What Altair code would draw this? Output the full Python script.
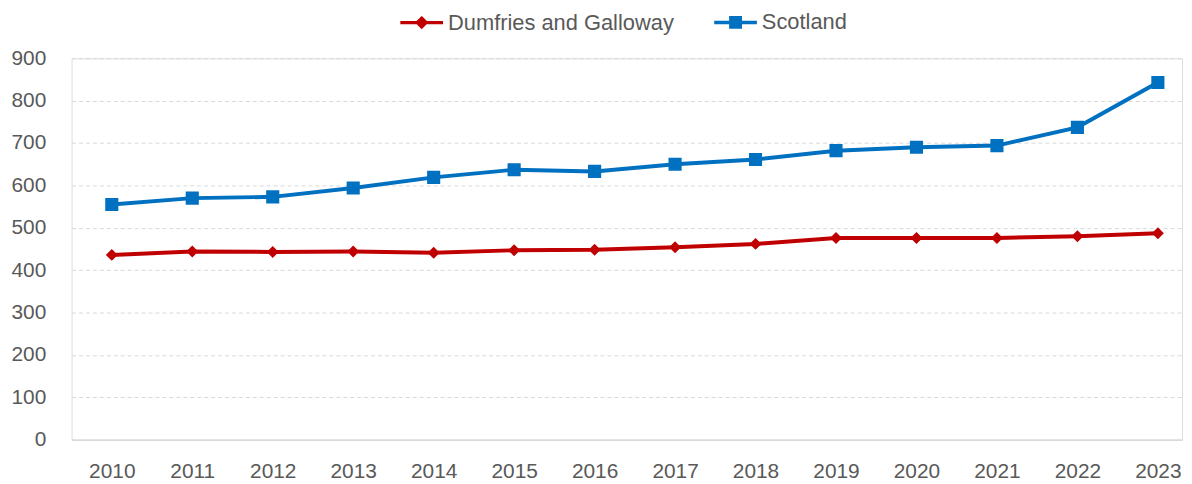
import altair as alt
import pandas as pd

years = list(range(2010, 2024))
dumfries = [436, 444, 443, 444, 441, 447, 448, 454, 462, 476, 476, 476, 480, 487]
scotland = [555, 570, 573, 594, 619, 637, 633, 650, 661, 682, 690, 694, 737, 843]
series_names = ["Dumfries and Galloway", "Scotland"]
colors = ["#C00000", "#0070C0"]
y_ticks = list(range(0, 1000, 100))

df = pd.DataFrame(
    {
        "year": years * 2,
        "value": dumfries + scotland,
        "series": [series_names[0]] * len(years) + [series_names[1]] * len(years),
    }
)

FONT = "Liberation Sans"
LABEL = "#595959"

diamond_path = "M-1,0H1M0,-0.2L0.2,0L0,0.2L-0.2,0Z"
square_path = "M-1,0H1M-0.22,-0.22H0.22V0.22H-0.22Z"

color_scale = alt.Scale(domain=series_names, range=colors)

legend = alt.Legend(
    title=None,
    orient="none",
    direction="horizontal",
    columns=2,
    legendX=329,
    legendY=-60,
    labelFont=FONT,
    labelFontSize=22,
    labelColor=LABEL,
    labelOffset=3,
    labelLimit=400,
    columnPadding=33,
    symbolSize=1849,
    symbolStrokeWidth=3.5,
)

x_enc = alt.X(
    "year:Q",
    scale=alt.Scale(domain=[2009.5, 2023.3], nice=False, zero=False),
    axis=alt.Axis(
        title=None,
        values=years,
        format="d",
        grid=False,
        ticks=False,
        domain=True,
        domainColor="#D9D9D9",
        domainWidth=1.5,
        labelFont=FONT,
        labelFontSize=21,
        labelColor=LABEL,
        labelPadding=21,
    ),
)
y_enc = alt.Y(
    "value:Q",
    scale=alt.Scale(domain=[0, 900], nice=False),
    axis=alt.Axis(
        title=None,
        values=y_ticks,
        grid=True,
        gridColor="#D9D9D9",
        gridDash=[4, 3],
        gridWidth=1,
        ticks=False,
        domain=False,
        labelFont=FONT,
        labelFontSize=21,
        labelColor=LABEL,
        labelPadding=26,
    ),
)

lines = alt.Chart(df).mark_line(strokeWidth=4, interpolate="linear").encode(
    x=x_enc,
    y=y_enc,
    color=alt.Color("series:N", scale=color_scale, legend=legend),
)

points = alt.Chart(df).mark_point(filled=True, opacity=1, size=3600, strokeWidth=0).encode(
    x=x_enc,
    y=y_enc,
    color=alt.Color("series:N", scale=color_scale, legend=legend),
    stroke=alt.Stroke("series:N", scale=color_scale, legend=legend),
    shape=alt.Shape(
        "series:N",
        scale=alt.Scale(domain=series_names, range=[diamond_path, square_path]),
        legend=legend,
    ),
)

chart = (
    alt.layer(lines, points)
    .properties(
        width=1118,
        height=384,
        padding={"left": 64, "top": 49, "right": 2, "bottom": 43},
        autosize=alt.AutoSizeParams(type="none"),
    )
    .configure_view(stroke=None)
    .configure(background="white")
)

chart.save("out.html", embed_options={"renderer": "svg", "actions": False})
